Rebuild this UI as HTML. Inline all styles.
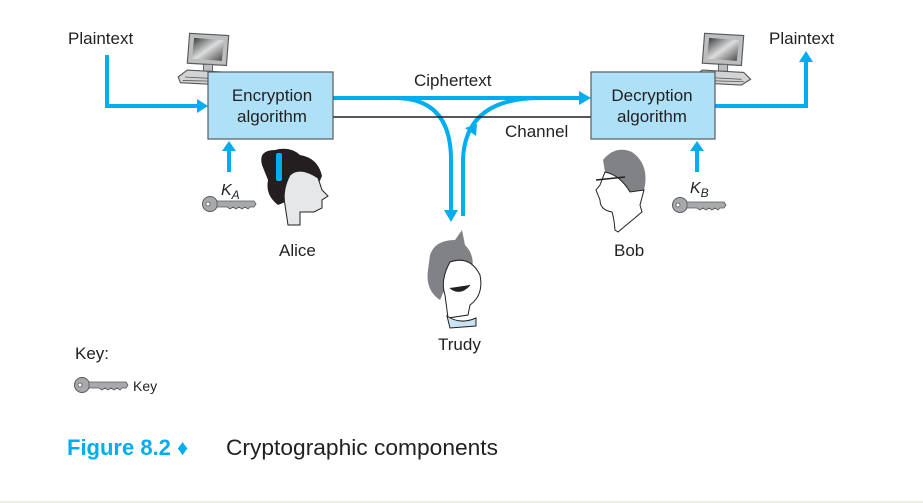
<!DOCTYPE html>
<html><head><meta charset="utf-8"><style>
html,body{margin:0;padding:0;background:#fff;}
svg{display:block;}
text{font-family:"Liberation Sans",sans-serif;fill:#231f20;}
</style></head><body>
<svg width="923" height="503" viewBox="0 0 923 503" xmlns="http://www.w3.org/2000/svg">
<defs>
<linearGradient id="scr" x1="0" y1="0" x2="1" y2="1"><stop offset="0" stop-color="#333"/><stop offset="0.5" stop-color="#ddd"/><stop offset="1" stop-color="#444"/></linearGradient>
<g id="key">
<circle cx="0" cy="0" r="7.5" fill="#a7a9ac" stroke="#58595b" stroke-width="1"/>
<circle cx="-2" cy="0" r="2" fill="#fff" stroke="#58595b" stroke-width="0.8"/>
<path d="M7,-3 L44,-3 L46,0 L44,3 L40,3 L38,5 L35,3 L32,5 L29,3 L26,5 L23,3 L20,5 L17,3 L7,3 Z" fill="#a7a9ac" stroke="#58595b" stroke-width="0.8"/>
</g>
<g id="pc">
<path d="M4,2 L38,4 L36,30 L2,28 Z" fill="#bcbec0" stroke="#58595b"/>
<path d="M8,6 L34,8 L32,26 L6,24 Z" fill="url(#scr)"/>
<rect x="16" y="29" width="8" height="6" fill="#bcbec0" stroke="#58595b" stroke-width="0.8"/>
<path d="M-6,40 L2,34 L38,36 L44,42 L36,47 L-4,45 Z" fill="#d1d3d4" stroke="#58595b"/>
<path d="M0,40 L36,42 M-2,43 L38,44" stroke="#58595b" stroke-width="0.7"/>
</g>
</defs>

<g transform="translate(185,31) scale(1.15)"><use href="#pc"/></g>
<g transform="translate(700,31) scale(1.15)"><use href="#pc"/></g>

<g fill="none" stroke="#00aeef" stroke-width="4">
<path d="M107,55 L107,106 L197,106"/>
<path d="M715,106 L806,106 L806,62"/>
<path d="M229,172 L229,150"/>
<path d="M697,172 L697,150"/>
<path d="M333,98 L580,98"/>
<path d="M395,98 Q451,98 451,160 L451,212"/>
<path d="M463,216 L463,160 Q465,98 540,98"/>
</g>
<g fill="#00aeef">
<polygon points="197,99 208,106 197,113"/>
<polygon points="799,62 806,51 813,62"/>
<polygon points="222,151 229,141 236,151"/>
<polygon points="690,151 697,141 704,151"/>
<polygon points="579,91 591,98 579,105"/>
<polygon points="444,210 451,222 458,210"/>
<polygon points="465,128 477,124 476,136"/>
</g>
<line x1="333" y1="117" x2="591" y2="117" stroke="#231f20" stroke-width="1.5"/>

<rect x="208" y="72" width="125" height="67" fill="#aee1f8" stroke="#58595b" stroke-width="1.2"/>
<rect x="591" y="72" width="124" height="67" fill="#aee1f8" stroke="#58595b" stroke-width="1.2"/>
<text x="272" y="101" font-size="17" text-anchor="middle">Encryption</text>
<text x="272" y="122" font-size="17" text-anchor="middle">algorithm</text>
<text x="652" y="101" font-size="17" text-anchor="middle">Decryption</text>
<text x="652" y="122" font-size="17" text-anchor="middle">algorithm</text>

<text x="68" y="44" font-size="17">Plaintext</text>
<text x="769" y="44" font-size="17">Plaintext</text>
<text x="414" y="86" font-size="17">Ciphertext</text>
<text x="505" y="137" font-size="17">Channel</text>
<text x="221" y="195" font-size="16" font-style="italic">K<tspan font-size="12" dy="4">A</tspan></text>
<text x="690" y="193" font-size="16" font-style="italic">K<tspan font-size="12" dy="4">B</tspan></text>

<use href="#key" x="210" y="204"/>
<use href="#key" x="680" y="205"/>
<use href="#key" x="82" y="385"/>

<path d="M262,165 Q258,150 275,150 Q290,146 300,155 Q318,158 322,176 L318,185 Q296,175 290,200 L278,205 Q265,195 268,180 Z" fill="#231f20"/>
<path d="M290,175 Q300,166 318,178 L322,190 L328,196 L322,200 L322,208 L314,212 L300,212 L300,225 L288,225 L285,205 Q282,190 290,175 Z" fill="#e6e7e8" stroke="#231f20"/>
<rect x="276" y="153" width="6" height="28" fill="#00aeef" rx="2"/>
<text x="279" y="256" font-size="17">Alice</text>

<path d="M603,160 Q615,145 632,152 Q650,165 644,190 L630,192 Q620,175 605,172 Z" fill="#808285"/>
<path d="M605,172 Q620,175 630,192 L644,190 L640,205 L642,212 L618,232 L615,230 Q614,218 612,212 Q600,210 600,200 L596,190 L600,185 Z" fill="#fff" stroke="#231f20"/>
<line x1="596" y1="180" x2="625" y2="177" stroke="#231f20" stroke-width="1.5"/>
<text x="614" y="256" font-size="17">Bob</text>

<path d="M430,255 Q435,240 455,240 L462,230 L465,245 Q475,255 472,270 L450,268 Q445,290 440,300 Q425,290 428,270 Z" fill="#808285"/>
<path d="M450,262 Q470,255 480,275 Q484,295 470,305 L468,315 L448,318 L445,295 Q440,280 450,262 Z" fill="#fff" stroke="#231f20"/>
<path d="M447,316 Q460,325 476,318 L476,326 L450,328 Z" fill="#c7e3f4" stroke="#231f20"/>
<path d="M450,288 Q460,296 470,285" fill="#231f20" stroke="#231f20"/>
<text x="438" y="350" font-size="17">Trudy</text>

<text x="75" y="359" font-size="17">Key:</text>
<text x="133" y="391" font-size="14">Key</text>

<text x="67" y="455" font-size="22" font-weight="bold" style="fill:#00aeef">Figure 8.2 ♦</text>
<text x="226" y="455" font-size="22" textLength="272" lengthAdjust="spacingAndGlyphs">Cryptographic components</text>
<rect x="0" y="501" width="923" height="2" fill="#eeeee4"/>
</svg>
</body></html>
